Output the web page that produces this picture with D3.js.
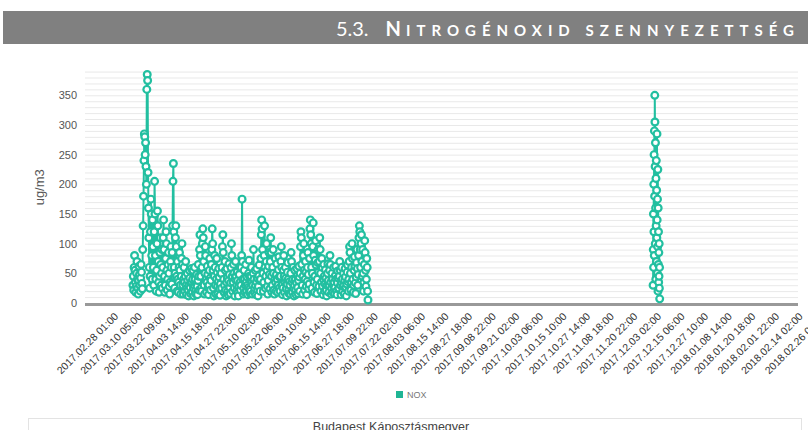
<!DOCTYPE html>
<html>
<head>
<meta charset="utf-8">
<script src="https://cdn.jsdelivr.net/npm/d3@7/dist/d3.min.js"></script>
<style>
  body { margin: 0; background: #fff; }
  svg { display: block; }
</style>
</head>
<body>
<svg id="chart" width="808" height="430"></svg>
<script>
// Category labels shown along the x axis (one every 292 hourly readings)
const tickLabels = [
  "2017.02.28 01:00", "2017.03.10 05:00", "2017.03.22 09:00", "2017.04.03 14:00",
  "2017.04.15 18:00", "2017.04.27 22:00", "2017.05.10 02:00", "2017.05.22 06:00",
  "2017.06.03 10:00", "2017.06.15 14:00", "2017.06.27 18:00", "2017.07.09 22:00",
  "2017.07.22 02:00", "2017.08.03 06:00", "2017.08.15 14:00", "2017.08.27 18:00",
  "2017.09.08 22:00", "2017.09.21 02:00", "2017.10.03 06:00", "2017.10.15 10:00",
  "2017.10.27 14:00", "2017.11.08 18:00", "2017.11.20 22:00", "2017.12.03 02:00",
  "2017.12.15 06:00", "2017.12.27 10:00", "2018.01.08 14:00", "2018.01.20 18:00",
  "2018.02.01 22:00", "2018.02.14 02:00", "2018.02.26 06:00"
];

const yTickValues = [0, 50, 100, 150, 200, 250, 300, 350];

// NOx readings, spring–summer measuring period (ug/m3)
const noxSpring = [
  30, 45, 22, 60, 80, 55, 35, 18, 28, 50, 70, 40, 25, 15, 38, 62, 48, 30, 20, 42, 65, 52, 33, 24,
  90, 130, 180, 240, 285, 280, 250, 270, 230, 200, 360, 385, 375, 220, 160, 110, 60, 25, 45, 120, 175, 150, 80, 40,
  140, 95, 60, 30, 120, 205, 150, 80, 40, 20, 55, 100, 155, 130, 70, 35, 18, 45, 85, 110, 65, 30, 50, 90,
  25, 60, 110, 140, 90, 45, 18, 30, 75, 120, 100, 55, 22, 40, 65, 85, 50, 28, 15, 35, 70, 95, 60, 32,
  85, 130, 205, 235, 120, 60, 25, 50, 110, 130, 95, 45, 20, 70, 40, 18, 35, 60, 85, 55, 30, 15, 45, 75,
  100, 65, 30, 15, 40, 60, 35, 20, 45, 70, 30, 14, 25, 50, 38, 22, 12, 30, 55, 42, 26, 16, 34, 58,
  35, 18, 40, 55, 25, 12, 30, 60, 40, 20, 15, 32, 48, 28, 14, 38, 65, 45, 22, 90, 115, 80, 45, 25,
  20, 60, 100, 125, 110, 70, 30, 15, 50, 95, 80, 40, 18, 35, 62, 48, 26, 14, 30, 55, 75, 42, 22, 38,
  65, 90, 125, 100, 55, 25, 12, 45, 80, 60, 30, 15, 40, 75, 52, 28, 16, 36, 58, 44, 24, 13, 32, 50,
  50, 25, 60, 95, 115, 85, 40, 18, 30, 70, 55, 22, 12, 35, 58, 42, 20, 14, 38, 66, 48, 26, 16, 34,
  60, 100, 80, 45, 20, 35, 65, 50, 25, 12, 40, 70, 45, 20, 30, 52, 38, 18, 12, 28, 48, 60, 35, 22,
  30, 60, 80, 175, 70, 40, 15, 25, 55, 40, 18, 30, 65, 35, 20, 44, 30, 14, 26, 50, 72, 45, 24, 16,
  20, 45, 60, 35, 15, 30, 50, 90, 40, 18, 25, 55, 30, 14, 36, 58, 42, 22, 12, 28, 46, 64, 38, 20,
  40, 75, 115, 140, 125, 90, 50, 20, 35, 80, 130, 60, 25, 45, 70, 100, 55, 28, 15, 38, 62, 85, 48, 24,
  70, 110, 85, 45, 18, 30, 60, 90, 50, 22, 15, 40, 75, 35, 20, 48, 66, 40, 18, 30, 56, 78, 44, 26,
  20, 45, 70, 95, 60, 30, 14, 25, 55, 80, 45, 18, 35, 60, 42, 24, 12, 32, 52, 68, 40, 22, 16, 36,
  30, 15, 50, 85, 70, 35, 18, 40, 60, 25, 12, 30, 55, 40, 22, 14, 34, 58, 46, 26, 16, 38, 62, 44,
  20, 50, 95, 120, 110, 65, 30, 15, 45, 80, 100, 55, 22, 40, 70, 52, 28, 14, 36, 60, 85, 48, 24, 32,
  75, 125, 140, 115, 100, 60, 25, 50, 95, 135, 80, 35, 18, 45, 72, 105, 64, 30, 16, 40, 68, 90, 52, 28,
  70, 110, 90, 50, 20, 35, 75, 60, 28, 14, 40, 65, 45, 20, 32, 56, 42, 22, 12, 30, 50, 66, 38, 18,
  30, 55, 80, 65, 35, 15, 25, 50, 40, 18, 30, 60, 35, 16, 26, 46, 62, 40, 20, 14, 34, 54, 42, 24,
  25, 45, 70, 55, 30, 14, 35, 60, 40, 20, 28, 50, 30, 15, 38, 58, 44, 26, 12, 32, 52, 64, 36, 20,
  40, 70, 95, 85, 50, 22, 35, 60, 100, 75, 40, 18, 30, 55, 78, 62, 34, 16, 44, 68, 90, 58, 30, 48,
  80, 110, 130, 120, 90, 60, 100, 115, 70, 45, 90, 50, 20, 35, 65, 105, 85, 55, 28, 40, 75, 60, 20, 5
];
// first/last reading position, in label-interval units
const noxSpringSpan = [0.74, 10.7];

// NOx readings, early-December measuring period (ug/m3)
const noxWinter = [
  30, 90, 150, 60, 200, 120, 250, 80, 290, 180, 350, 305, 230, 100,
  270, 160, 40, 210, 130, 240, 70, 190, 110, 285, 140, 50, 175, 95,
  225, 20, 160, 65, 120, 35, 85, 45, 100, 25, 60, 7
];
const noxWinterSpan = [22.78, 23.06];

const seriesName = "NOX";
const yTitle = "ug/m3";
const stationName = "Budapest Káposztásmegyer";
const sectionNo = "5.3.";
const sectionTitle = "Nitrogénoxid szennyezettség";

const TEAL = "#22bfa0";
const svg = d3.select("#chart");

// ---- section heading bar ----
svg.append("rect").attr("x", 3).attr("y", 11).attr("width", 805).attr("height", 33).attr("fill", "#808080");
const head = svg.append("text")
  .attr("x", 800).attr("y", 36).attr("text-anchor", "end")
  .attr("fill", "#fff").style("font-family", "Lato, 'Open Sans', sans-serif");
head.append("tspan").style("font-size", "20px").text(sectionNo);
const upper = sectionTitle.toUpperCase();
head.append("tspan").attr("dx", 17).style("font-size", "20px").style("font-weight", "bold")
  .style("letter-spacing", "5px").text(upper[0]);
head.append("tspan").style("font-size", "15px").style("font-weight", "bold")
  .style("letter-spacing", "6px").text(upper.slice(1));

// ---- scales ----
const plotLeft = 85, plotRight = 798, plotBottom = 303;
const x = d3.scaleLinear().domain([-1.29, 28.92]).range([plotLeft, plotRight]);
const y = d3.scaleLinear().domain([0, 390]).range([plotBottom, plotBottom - 390 * 0.5934]);

// ---- grid ----
svg.append("g").selectAll("line").data(d3.range(10, 391, 10)).join("line")
  .attr("x1", plotLeft).attr("x2", plotRight)
  .attr("y1", d => y(d) + 0.5).attr("y2", d => y(d) + 0.5)
  .attr("stroke", "#e9e9e9").attr("stroke-width", 1);

// ---- y axis ----
const yAxis = d3.axisLeft(y).tickValues(yTickValues).tickSize(0).tickPadding(0);
const yg = svg.append("g").attr("transform", "translate(77,0)").call(yAxis);
yg.select(".domain").remove();
yg.selectAll("text").attr("fill", "#555").style("font-family", "'Liberation Sans', Arial, sans-serif").style("font-size", "11px");

svg.append("text")
  .attr("transform", `translate(44,${y(195)}) rotate(-90)`)
  .attr("text-anchor", "middle").attr("fill", "#555")
  .style("font-family", "'Liberation Sans', Arial, sans-serif").style("font-size", "13px")
  .text(yTitle);

// ---- x axis baseline and labels ----
svg.append("line").attr("x1", plotLeft).attr("x2", plotRight)
  .attr("y1", plotBottom + 1.5).attr("y2", plotBottom + 1.5)
  .attr("stroke", "#999").attr("stroke-width", 3);

const xAxis = d3.axisBottom(x).tickValues(d3.range(tickLabels.length))
  .tickFormat(i => tickLabels[i]).tickSize(0).tickPadding(0);
const xg = svg.append("g").attr("transform", `translate(3,${plotBottom + 14})`).call(xAxis);
xg.select(".domain").remove();
xg.selectAll("text")
  .attr("y", 0).attr("dy", 0)
  .attr("text-anchor", "end")
  .attr("transform", "rotate(-45)")
  .attr("fill", "#333")
  .style("font-family", "'Liberation Sans', Arial, sans-serif").style("font-size", "10.5px");

// ---- series ----
function positioned(values, span) {
  const n = values.length;
  return values.map((v, i) => ({ u: span[0] + (span[1] - span[0]) * i / (n - 1), v }));
}
const segments = [positioned(noxSpring, noxSpringSpan), positioned(noxWinter, noxWinterSpan)];
const line = d3.line().x(d => x(d.u)).y(d => y(d.v));

const gSeries = svg.append("g");
gSeries.selectAll("path").data(segments).join("path")
  .attr("d", line).attr("fill", "none").attr("stroke", TEAL).attr("stroke-width", 2)
  .attr("stroke-linejoin", "round");
gSeries.selectAll("circle").data(segments.flat()).join("circle")
  .attr("cx", d => x(d.u)).attr("cy", d => y(d.v)).attr("r", 3.4)
  .attr("fill", "#fff").attr("stroke", TEAL).attr("stroke-width", 2.2);

// ---- legend ----
const lg = svg.append("g").attr("transform", "translate(396,391)");
lg.append("rect").attr("width", 7).attr("height", 7).attr("fill", "#1fb594");
lg.append("text").attr("x", 11).attr("y", 7).attr("fill", "#777")
  .style("font-family", "'Liberation Sans', Arial, sans-serif").style("font-size", "9px")
  .text(seriesName);

// ---- station caption box ----
svg.append("rect").attr("x", 28.5).attr("y", 418.5).attr("width", 773).attr("height", 30)
  .attr("fill", "none").attr("stroke", "#e3e3e3");
svg.append("text").attr("x", 391).attr("y", 431).attr("text-anchor", "middle")
  .attr("fill", "#444").style("font-family", "'Liberation Sans', Arial, sans-serif").style("font-size", "12.5px")
  .text(stationName);
</script>
</body>
</html>
